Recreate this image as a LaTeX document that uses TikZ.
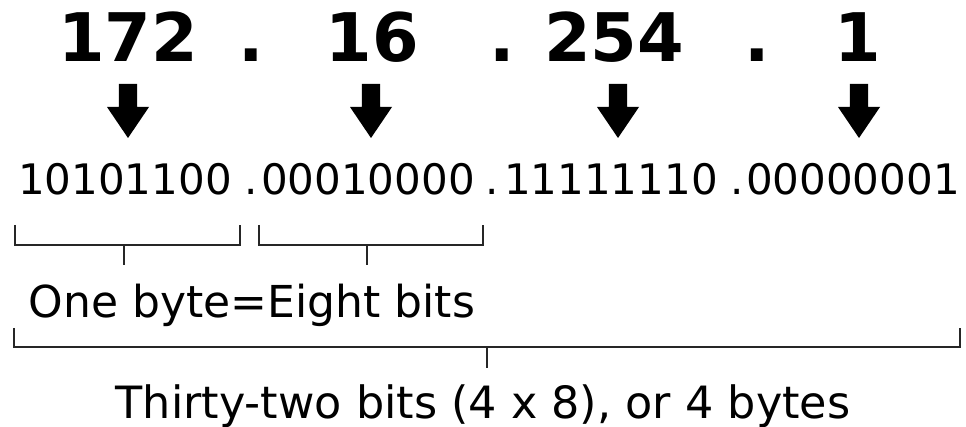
\documentclass[tikz,border=0pt]{standalone}
\usepackage{fontspec}
\setmainfont{DejaVu Sans}
\begin{document}
\begin{tikzpicture}[x=1pt,y=-1pt,
  big/.style={font=\fontsize{67}{78}\selectfont\bfseries, anchor=base, inner sep=0pt},
  bin/.style={font=\fontsize{42}{50}\selectfont, anchor=base, inner sep=0pt},
  lbl/.style={font=\fontsize{44}{52}\selectfont, anchor=base, inner sep=0pt},
  brk/.style={line width=2.3pt, line cap=butt, line join=miter, black!85},
  darrow/.style={fill=black}]
\useasboundingbox (0,0) rectangle (966,427);
% decimal octets
\node[big] (d1) at (128,62) {172};
\node[big] (p1) at (251,62) {.};
\node[big] (d2) at (372,62) {16};
\node[big] (p2) at (502,62) {.};
\node[big] (d3) at (614,62) {254};
\node[big] (p3) at (757,62) {.};
\node[big] (d4) at (858,62) {1};
% arrows
\foreach \x in {128,371,618,859}{
  \fill[darrow] (\x-9.2,84) -- (\x+9.2,84) -- (\x+9.2,107) -- (\x+21,107)
    -- (\x,138) -- (\x-21,107) -- (\x-9.2,107) -- cycle;
}
% binary octets
\node[bin] (b1) at (125,195) {10101100};
\node[bin] (q1) at (251,195) {.};
\node[bin] (b2) at (368,195) {00010000};
\node[bin] (q2) at (492,195) {.};
\node[bin] (b3) at (611,195) {11111110};
\node[bin] (q3) at (737,195) {.};
\node[bin] (b4) at (853,195) {00000001};
% byte brackets
\coordinate (k1) at (124,265);
\coordinate (k2) at (367,265);
\draw[brk] (15,225) -- (15,245) -- (240,245) -- (240,225);
\draw[brk] (124,245) -- (k1);
\draw[brk] (259,225) -- (259,245) -- (483,245) -- (483,225);
\draw[brk] (367,245) -- (k2);
\node[lbl] (one) at (252,318) {One byte=Eight bits};
% full bracket
\coordinate (k3) at (487,368);
\draw[brk] (14,328) -- (14,347) -- (960,347) -- (960,328);
\draw[brk] (487,347) -- (k3);
\node[lbl, font=\fontsize{44.5}{52}\selectfont] (all) at (483,418) {Thirty-two bits (4 x 8), or 4 bytes};
\end{tikzpicture}
\end{document}
